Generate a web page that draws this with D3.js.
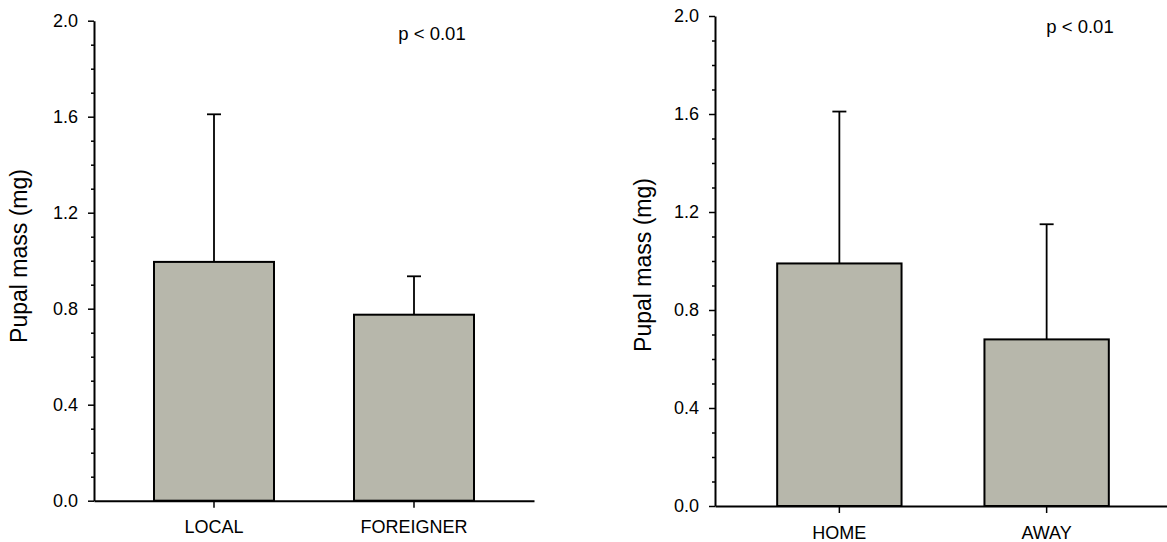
<!DOCTYPE html>
<html>
<head>
<meta charset="utf-8">
<script src="https://cdn.jsdelivr.net/npm/d3@7"></script>
<style>
  html, body { margin: 0; padding: 0; background: #fff; }
  svg { display: block; }
  text { font-family: "Liberation Sans", Arial, sans-serif; fill: #000; }
</style>
</head>
<body>
<svg id="chart" width="1167" height="542"></svg>
<script>
// Pupal mass by origin (left) and by rearing site (right): mean + upper SD
const originGroups = ["LOCAL", "FOREIGNER"];
const originMeans  = [0.995, 0.775];
const originSD     = [0.615, 0.16];

const siteGroups = ["HOME", "AWAY"];
const siteMeans  = [0.99, 0.68];
const siteSD     = [0.62, 0.47];

const majorTicks = [0, 0.4, 0.8, 1.2, 1.6, 2.0];
const minorTicks = [0.1, 0.2, 0.3, 0.5, 0.6, 0.7, 0.9, 1.0, 1.1, 1.3, 1.4, 1.5, 1.7, 1.8, 1.9];
const yTitle = "Pupal mass (mg)";
const pLabels = ["p < 0.01", "p < 0.01"];

const svg = d3.select("#chart");
const BAR_FILL = "#b7b7ab";

function panel(cfg) {
  const { groups, means, sd, left, right, top, bottom, titleX, titleY, pX, pY, pText } = cfg;
  const g = svg.append("g");

  const x = d3.scaleBand().domain(groups).range([left, right])
    .paddingInner(0.4).paddingOuter(0.3);
  const y = d3.scaleLinear().domain([0, 2.0]).range([bottom, top]);

  // error bars (upper only), drawn first so bar outline sits on top
  const cap = 14;
  const eb = g.append("g").attr("stroke", "#000").attr("stroke-width", 1.8).attr("fill", "none");
  groups.forEach((k, i) => {
    const cx = x(k) + x.bandwidth() / 2;
    eb.append("line").attr("x1", cx).attr("x2", cx)
      .attr("y1", y(means[i])).attr("y2", y(means[i] + sd[i]));
    eb.append("line").attr("x1", cx - cap / 2).attr("x2", cx + cap / 2)
      .attr("y1", y(means[i] + sd[i])).attr("y2", y(means[i] + sd[i]));
  });

  // bars
  g.append("g").selectAll("rect").data(groups).join("rect")
    .attr("x", d => x(d))
    .attr("y", (d, i) => y(means[i]))
    .attr("width", x.bandwidth())
    .attr("height", (d, i) => y(0) - y(means[i]))
    .attr("fill", BAR_FILL)
    .attr("stroke", "#000")
    .attr("stroke-width", 2);

  // y axis: minor ticks
  g.append("g").attr("transform", `translate(${left},0)`)
    .call(d3.axisLeft(y).tickValues(minorTicks).tickSize(3).tickSizeOuter(0).tickFormat(""))
    .call(a => a.select(".domain").remove())
    .call(a => a.selectAll("line").attr("stroke-width", 1.5));

  // y axis: major ticks + labels
  g.append("g").attr("transform", `translate(${left},0)`)
    .call(d3.axisLeft(y).tickValues(majorTicks).tickSize(6).tickSizeOuter(0).tickPadding(10)
      .tickFormat(d3.format(".1f")))
    .call(a => a.select(".domain").attr("stroke-width", 2))
    .call(a => a.selectAll("line").attr("stroke-width", 1.5))
    .call(a => a.selectAll("text").attr("font-size", 18)
      .style("font-family", "'Liberation Sans', Arial, sans-serif"));

  // x axis
  g.append("g").attr("transform", `translate(0,${bottom})`)
    .call(d3.axisBottom(x).tickSize(7).tickSizeOuter(0).tickPadding(13))
    .call(a => a.select(".domain").attr("stroke-width", 2))
    .call(a => a.selectAll("line").attr("stroke-width", 1.5))
    .call(a => a.selectAll("text").attr("font-size", 18)
      .style("font-family", "'Liberation Sans', Arial, sans-serif"));

  // y title
  g.append("text")
    .attr("transform", `translate(${titleX},${titleY}) rotate(-90)`)
    .attr("text-anchor", "middle")
    .attr("font-size", 23)
    .text(yTitle);

  // significance
  g.append("text")
    .attr("x", pX).attr("y", pY)
    .attr("text-anchor", "middle")
    .attr("font-size", 18.5)
    .text(pText);
}

panel({ groups: originGroups, means: originMeans, sd: originSD,
        left: 94, right: 534, top: 20.7, bottom: 500.7,
        titleX: 27, titleY: 256, pX: 432, pY: 40, pText: pLabels[0] });

panel({ groups: siteGroups, means: siteMeans, sd: siteSD,
        left: 715, right: 1171, top: 16, bottom: 506,
        titleX: 651, titleY: 265, pX: 1080, pY: 33, pText: pLabels[1] });
</script>
</body>
</html>
